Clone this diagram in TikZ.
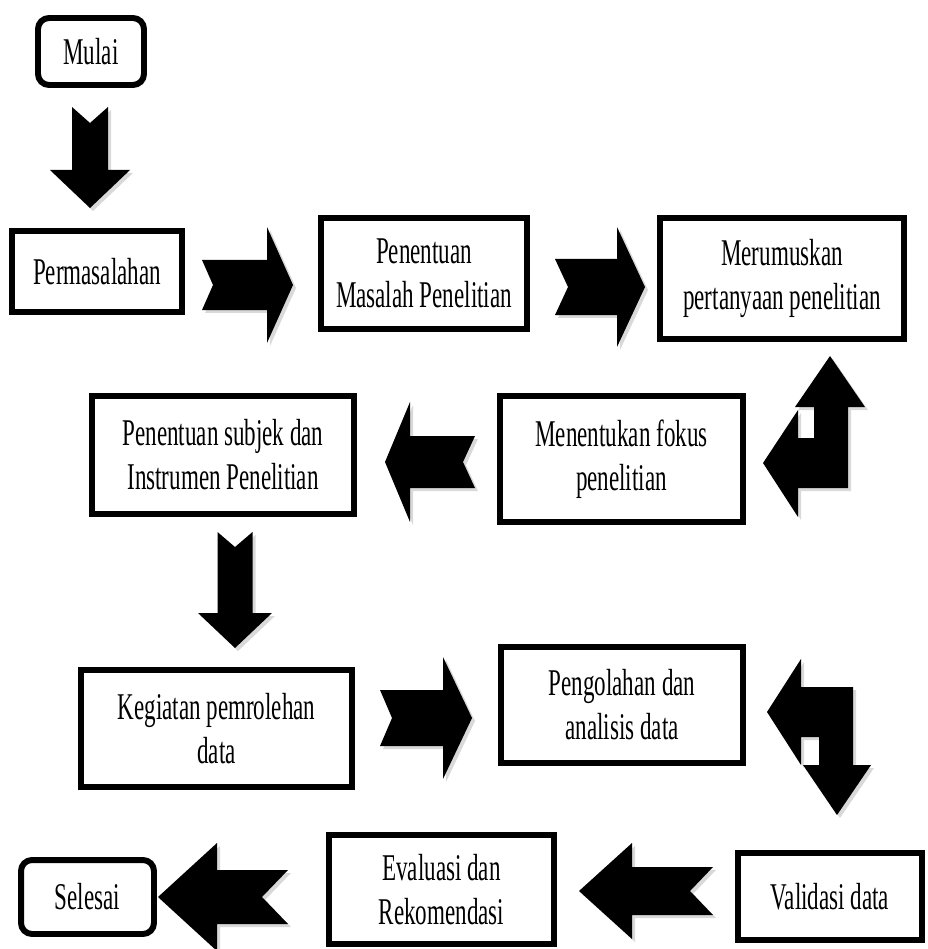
\documentclass[tikz,border=0pt]{standalone}
\usepackage{fontspec}
\setmainfont{Liberation Serif}[FakeStretch=0.61]
\usetikzlibrary{shadows}

\begin{document}
\begin{tikzpicture}[x=0.02cm,y=0.02cm,
  box/.style={draw,line width=3.4pt,fill=white,align=center,inner sep=2pt,
    font=\fontsize{21.5}{25}\selectfont,
    drop shadow={shadow xshift=0.04cm,shadow yshift=-0.04cm,opacity=0.3}},
  endbox/.style={box,rounded corners=0.22cm},
  blockarrow/.style={fill=black,
    drop shadow={shadow xshift=0.06cm,shadow yshift=-0.06cm,opacity=0.3}}]
  \useasboundingbox (0,0) rectangle (928,-949);
  % tail, angle, length, head length, head half, shaft half, notch
  \def\blockarr#1#2#3#4#5#6#7{%
    \fill[blockarrow,shift={(#1)},rotate=#2]
      (0,#6) -- ({#3-#4},#6) -- ({#3-#4},#5) -- (#3,0) -- ({#3-#4},-#5)
      -- ({#3-#4},-#6) -- (0,-#6) -- (#7,0) -- cycle;}

  \node[endbox,minimum width=2.12cm,minimum height=1.34cm] (mulai) at (91,-51.5) {Mulai};
  \node[box,minimum width=3.4cm,minimum height=1.62cm] (masalah) at (97,-271.5) {Permasalahan};
  \node[box,minimum width=4.12cm,minimum height=2.22cm] (penentuan) at (424,-273.5) {Penentuan\\Masalah Penelitian};
  \node[box,minimum width=4.88cm,minimum height=2.42cm] (rumusan) at (782,-278.5) {Merumuskan\\pertanyaan penelitian};
  \node[box,minimum width=4.86cm,minimum height=2.52cm] (fokus) at (621.5,-459) {Menentukan fokus\\penelitian};
  \node[box,minimum width=5.24cm,minimum height=2.36cm] (subjek) at (223,-455) {Penentuan subjek dan\\Instrumen Penelitian};
  \node[box,minimum width=5.42cm,minimum height=2.34cm] (kegiatan) at (216.5,-728.5) {Kegiatan pemrolehan\\data};
  \node[box,minimum width=4.84cm,minimum height=2.32cm] (olah) at (622,-705) {Pengolahan dan\\analisis data};
  \node[box,minimum width=3.68cm,minimum height=1.74cm] (validasi) at (830,-896.5) {Validasi data};
  \node[box,minimum width=4.5cm,minimum height=2.18cm] (evaluasi) at (441.5,-889.5) {Evaluasi dan\\Rekomendasi};
  \node[endbox,minimum width=2.66cm,minimum height=1.48cm] (selesai) at (87.5,-897) {Selesai};

  % arrow tails
  \coordinate (t1) at (90,-107);
  \coordinate (t2) at (202,-285);
  \coordinate (t3) at (555,-287);
  \coordinate (t4) at (475,-462);
  \coordinate (t5) at (235,-532);
  \coordinate (t6) at (380,-718);
  \coordinate (t7) at (713,-891);
  \coordinate (t8) at (288,-897);

  \blockarr{t1}{-90}{101}{38}{40}{18}{16}
  \blockarr{t2}{0}{91}{26}{58}{25}{11}
  \blockarr{t3}{0}{90}{28}{60}{28}{13}
  \blockarr{t4}{180}{90}{25}{60}{26}{12}
  \blockarr{t5}{-90}{116}{35}{37}{17.5}{15}
  \blockarr{t6}{0}{92}{29}{61}{28}{12}
  \blockarr{t7}{180}{134}{53}{48}{24}{23}
  \blockarr{t8}{180}{130}{59}{54}{27}{26}

  % bent arrows
  \fill[blockarrow] (830,-356) -- (865,-407) -- (848,-407) -- (848,-488) -- (798,-488)
    -- (798,-517) -- (763,-463) -- (798,-410) -- (798,-438) -- (814,-438)
    -- (814,-407) -- (795,-407) -- cycle;
  \fill[blockarrow] (767,-712) -- (801,-659) -- (801,-687) -- (853,-687) -- (853,-765)
    -- (871,-765) -- (837,-815) -- (803,-765) -- (819,-765) -- (819,-737)
    -- (801,-737) -- (801,-765) -- cycle;
\end{tikzpicture}
\end{document}
